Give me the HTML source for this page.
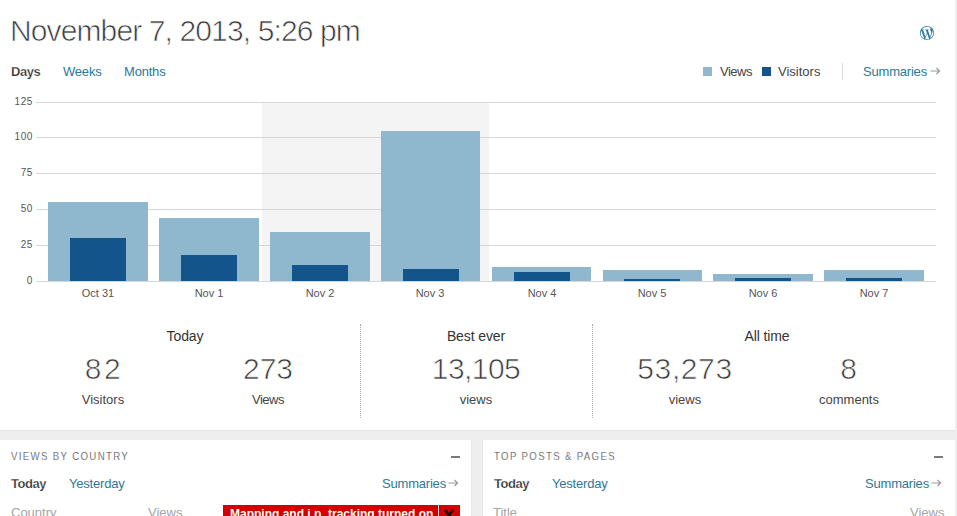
<!DOCTYPE html>
<html><head><meta charset="utf-8">
<style>
*{box-sizing:border-box}
html,body{margin:0;padding:0;width:957px;height:516px;overflow:hidden;background:#eeeeee;font-family:"Liberation Sans",sans-serif;color:#333}
.abs{position:absolute;white-space:nowrap}
#top{position:absolute;left:0;top:0;width:955px;height:431px;background:#fff;border-bottom:1px solid #e3e3e3}
#title{left:10px;top:14px;font-size:30px;color:#3a3a3a;letter-spacing:-0.88px;-webkit-text-stroke:0.7px #fff}
.tab{top:64px;font-size:13px;color:#2d7898;letter-spacing:-0.2px}
.lg{top:64px;font-size:13px;color:#444}
.sw{position:absolute;width:9px;height:9px}
.grid{position:absolute;left:36px;width:900px;height:1px;background:#d6d6d6}
.yl{position:absolute;width:31px;text-align:right;left:2px;font-size:10px;color:#555;letter-spacing:0.6px}
.bar{position:absolute;background:#8fb7cd}
.vb{position:absolute;background:#13558a}
.xl{position:absolute;width:100px;text-align:center;top:287px;font-size:11px;color:#555}
.sec{position:absolute;text-align:center;white-space:nowrap}
.st{font-size:14px;color:#333;letter-spacing:-0.1px}
.num{font-size:30px;color:#3a3a3a;letter-spacing:0.6px;-webkit-text-stroke:0.7px #fff}
.lab{font-size:13px;color:#444}
.dot{position:absolute;top:324px;height:94px;width:0;border-left:1px dotted #aaa}
.panel{position:absolute;top:440px;height:80px;background:#fff}
.ph{font-size:11px;letter-spacing:1.5px;color:#4a4a4a;transform:scaleX(0.88);transform-origin:0 0;-webkit-text-stroke:0.2px #fff}
</style></head><body>
<div id="top">
  <div class="abs" id="title">November 7, 2013, 5:26 pm</div>
  <svg class="abs" style="left:920px;top:26px" width="14" height="14" viewBox="0 0 24 24"><path fill="#2b7aa0" d="M21.469 6.825c.84 1.537 1.318 3.3 1.318 5.175 0 3.979-2.156 7.456-5.363 9.325l3.295-9.527c.615-1.54.82-2.771.82-3.864 0-.405-.026-.78-.07-1.11m-7.981.105c.647-.03 1.232-.105 1.232-.105.582-.075.514-.93-.067-.899 0 0-1.755.135-2.88.135-1.064 0-2.85-.15-2.850-.15-.585-.03-.661.855-.075.885 0 0 .54.061 1.125.09l1.68 4.605-2.37 7.08L5.354 6.9c.649-.03 1.234-.1 1.234-.1.585-.075.516-.93-.065-.896 0 0-1.746.138-2.874.138-.2 0-.438-.008-.69-.015C4.911 3.15 8.235 1.215 12 1.215c2.809 0 5.365 1.072 7.286 2.833-.046-.003-.091-.009-.141-.009-1.06 0-1.812.923-1.812 1.914 0 .89.513 1.643 1.06 2.531.411.72.89 1.643.89 2.977 0 .915-.354 1.994-.821 3.479l-1.075 3.585-3.9-11.61.001.014zM12 22.784c-1.059 0-2.081-.153-3.048-.437l3.237-9.406 3.315 9.087c.024.053.05.101.078.149-1.12.393-2.325.609-3.582.609M1.211 12c0-1.564.336-3.05.935-4.39L7.29 21.709C3.694 19.96 1.212 16.271 1.211 12M12 0C5.385 0 0 5.385 0 12s5.385 12 12 12 12-5.385 12-12S18.615 0 12 0"/></svg>
  <div class="abs" style="left:11px;top:64px;font-size:13px;font-weight:bold;color:#2a2a2a;letter-spacing:-0.45px;-webkit-text-stroke:0.25px #fff">Days</div>
  <div class="abs tab" style="left:63px">Weeks</div>
  <div class="abs tab" style="left:124px">Months</div>

  <div class="sw" style="left:703px;top:67px;background:#8fb7cd"></div>
  <div class="abs lg" style="left:720px;letter-spacing:-0.5px">Views</div>
  <div class="sw" style="left:762px;top:67px;background:#13558a"></div>
  <div class="abs lg" style="left:778px">Visitors</div>
  <div class="abs" style="left:842px;top:63px;width:1px;height:17px;background:#ddd"></div>
  <div class="abs tab" style="left:863px">Summaries</div><svg style="position:absolute;left:930px;top:67px" width="11" height="8" viewBox="0 0 11 8"><path d="M0.5 4H9.5M6.5 1L9.5 4L6.5 7" fill="none" stroke="#999" stroke-width="1.2"/></svg>

  <!-- chart -->
  <div class="abs" style="left:262px;top:103px;width:227px;height:178px;background:#f4f4f4"></div>
  <div class="grid" style="top:102px"></div>
  <div class="grid" style="top:137px"></div>
  <div class="grid" style="top:173px"></div>
  <div class="grid" style="top:209px"></div>
  <div class="grid" style="top:245px"></div>
  <div class="grid" style="top:281px"></div>
  <div class="yl" style="top:96px">125</div>
  <div class="yl" style="top:131px">100</div>
  <div class="yl" style="top:167px">75</div>
  <div class="yl" style="top:203px">50</div>
  <div class="yl" style="top:239px">25</div>
  <div class="yl" style="top:275px">0</div>

    <div class="bar" style="left:48px;top:202px;width:100px;height:79px"></div>
  <div class="vb" style="left:70px;top:238px;width:56px;height:43px"></div>
  <div class="bar" style="left:159px;top:218px;width:100px;height:63px"></div>
  <div class="vb" style="left:181px;top:255px;width:56px;height:26px"></div>
  <div class="bar" style="left:270px;top:232px;width:100px;height:49px"></div>
  <div class="vb" style="left:292px;top:265px;width:56px;height:16px"></div>
  <div class="bar" style="left:381px;top:131px;width:99px;height:150px"></div>
  <div class="vb" style="left:403px;top:269px;width:56px;height:12px"></div>
  <div class="bar" style="left:492px;top:267px;width:99px;height:14px"></div>
  <div class="vb" style="left:514px;top:272px;width:56px;height:9px"></div>
  <div class="bar" style="left:603px;top:270px;width:99px;height:11px"></div>
  <div class="vb" style="left:624px;top:279px;width:56px;height:2px"></div>
  <div class="bar" style="left:713px;top:274px;width:100px;height:7px"></div>
  <div class="vb" style="left:735px;top:278px;width:56px;height:3px"></div>
  <div class="bar" style="left:824px;top:270px;width:100px;height:11px"></div>
  <div class="vb" style="left:846px;top:278px;width:56px;height:3px"></div>

    <div class="xl" style="left:48px">Oct 31</div>
  <div class="xl" style="left:159px">Nov 1</div>
  <div class="xl" style="left:270px">Nov 2</div>
  <div class="xl" style="left:380px">Nov 3</div>
  <div class="xl" style="left:492px">Nov 4</div>
  <div class="xl" style="left:602px">Nov 5</div>
  <div class="xl" style="left:713px">Nov 6</div>
  <div class="xl" style="left:824px">Nov 7</div>

  <!-- summary stats -->
  <div class="sec st" style="left:135px;width:100px;top:328px">Today</div>
  <div class="sec num" style="left:54px;width:100px;top:352px;letter-spacing:2.6px">82</div>
  <div class="sec lab" style="left:53px;width:100px;top:392px">Visitors</div>
  <div class="sec num" style="left:218px;width:100px;top:352px;letter-spacing:0px">273</div>
  <div class="sec lab" style="left:218px;width:100px;top:392px;letter-spacing:-0.5px">Views</div>

  <div class="dot" style="left:360px"></div>

  <div class="sec st" style="left:426px;width:100px;top:328px">Best ever</div>
  <div class="sec num" style="left:426px;width:100px;top:352px;letter-spacing:-0.55px">13,105</div>
  <div class="sec lab" style="left:426px;width:100px;top:392px">views</div>

  <div class="dot" style="left:592px"></div>

  <div class="sec st" style="left:717px;width:100px;top:328px">All time</div>
  <div class="sec num" style="left:635px;width:100px;top:352px">53,273</div>
  <div class="sec lab" style="left:635px;width:100px;top:392px">views</div>
  <div class="sec num" style="left:799px;width:100px;top:352px">8</div>
  <div class="sec lab" style="left:799px;width:100px;top:392px">comments</div>
</div>

<div class="panel" style="left:0;width:472px;box-shadow:inset -1px 0 #e8e8e8">
  <div class="abs ph" style="left:11px;top:10px">VIEWS BY COUNTRY</div>
  <div class="abs" style="left:451px;top:16px;width:9px;height:2px;background:#7a7a7a"></div>
  <div class="abs" style="left:11px;top:36px;font-size:13px;font-weight:bold;color:#2a2a2a;letter-spacing:-0.45px;-webkit-text-stroke:0.25px #fff">Today</div>
  <div class="abs tab" style="left:69px;top:36px">Yesterday</div>
  <div class="abs tab" style="left:382px;top:36px">Summaries</div><svg style="position:absolute;left:448px;top:39px" width="11" height="8" viewBox="0 0 11 8"><path d="M0.5 4H9.5M6.5 1L9.5 4L6.5 7" fill="none" stroke="#999" stroke-width="1.2"/></svg>
  <div class="abs" style="left:11px;top:65px;font-size:13px;color:#a4a4a4">Country</div>
  <div class="abs" style="left:148px;top:65px;font-size:13px;color:#a4a4a4">Views</div>
  <div class="abs" style="left:223px;top:65px;width:237px;height:20px;background:#d20000"></div>
  <div class="abs" style="left:230px;top:67px;font-size:12px;font-weight:bold;color:#fff">Mapping and i.p. tracking turned on</div>
  <div class="abs" style="left:438px;top:65px;width:1px;height:20px;background:#f4d0d0"></div>
  <svg class="abs" style="left:444px;top:69px" width="10" height="12" viewBox="0 0 10 12"><path d="M1 1L9 11M9 1L1 11" stroke="#1a0a0a" stroke-width="2.6"/></svg>
</div>
<div class="panel" style="left:482px;width:473px;box-shadow:inset 1px 0 #e8e8e8">
  <div class="abs ph" style="left:12px;top:10px">TOP POSTS &amp; PAGES</div>
  <div class="abs" style="left:452px;top:16px;width:9px;height:2px;background:#7a7a7a"></div>
  <div class="abs" style="left:12px;top:36px;font-size:13px;font-weight:bold;color:#2a2a2a;letter-spacing:-0.45px;-webkit-text-stroke:0.25px #fff">Today</div>
  <div class="abs tab" style="left:70px;top:36px">Yesterday</div>
  <div class="abs tab" style="left:383px;top:36px">Summaries</div><svg style="position:absolute;left:449px;top:39px" width="11" height="8" viewBox="0 0 11 8"><path d="M0.5 4H9.5M6.5 1L9.5 4L6.5 7" fill="none" stroke="#999" stroke-width="1.2"/></svg>
  <div class="abs" style="left:11px;top:65px;font-size:13px;color:#a4a4a4">Title</div>
  <div class="abs" style="left:428px;top:65px;font-size:13px;color:#a4a4a4">Views</div>
</div>
</body></html>
